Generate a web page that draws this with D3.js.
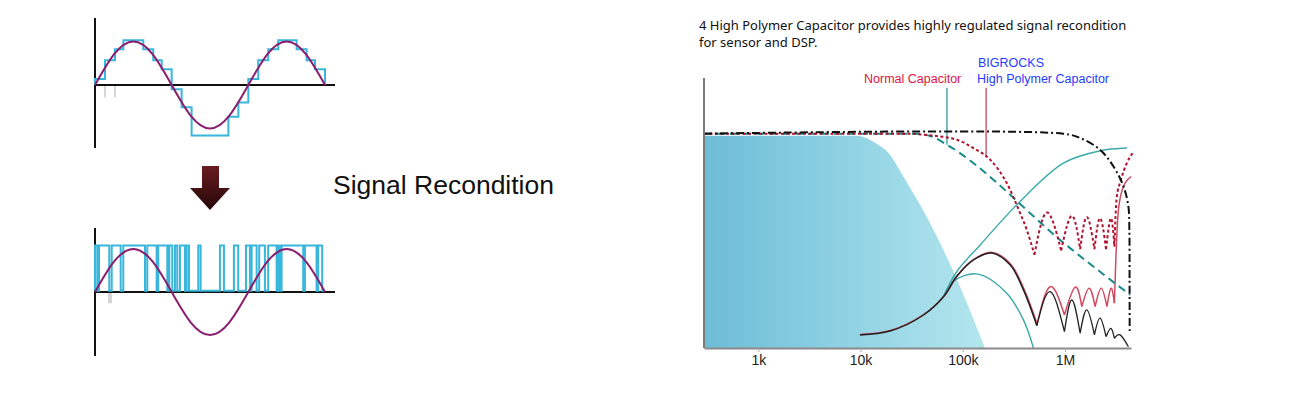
<!DOCTYPE html>
<html><head><meta charset="utf-8">
<script src="https://cdn.jsdelivr.net/npm/d3@7/dist/d3.min.js"></script>
<style>body{margin:0;background:#fff}svg{display:block}</style>
</head><body>
<svg id="c" width="1300" height="400"></svg>
<script>
// ================= DATA =================
// left panels (time in half-periods, level in amplitude units)
const sineX = [0,0.25,0.5,0.75,1,1.25,1.5,1.75,2,2.25,2.5,2.75,3];
const sineY = [0,0.71,1,0.71,0,-0.71,-1,-0.71,0,0.71,1,0.71,0];
const stepEdges = [0,0.13,0.26,0.37,0.63,0.76,0.87,1.0,1.13,1.26,1.74,1.87,2.0,2.13,2.26,2.39,2.63,2.76,2.87,3.0];
const stepLevels = [0.14,0.57,0.82,1.03,0.82,0.57,0.36,-0.1,-0.51,-1.16,-0.73,-0.4,0.14,0.57,0.82,1.03,0.82,0.57,0.36];
const sampleMarksTop = [0.13,0.26];
const pulseStart = [0,0.052,0.218,0.369,0.682,0.825,0.969,1.043,1.108,1.196,1.347,1.63,1.812,1.969,2.043,2.142,2.259,2.39,2.434,2.738,2.911];
const pulseEnd   = [0.03,0.186,0.335,0.652,0.804,0.943,1.008,1.073,1.173,1.226,1.378,1.682,1.868,2.021,2.108,2.216,2.369,2.412,2.716,2.89,2.963];
const pulseHigh = 1.08, pulseLow = 0.03;
const sampleMarksBottom = [0.183,0.209];

// right chart: frequency (Hz) and relative level (plateau = 100)
const freqTicks = [1e3,1e4,1e5,1e6];
const freqTickLabels = ["1k","10k","100k","1M"];
const shadeF = [294,9.18e3,14.4e3,19.4e3,24.3e3,30.5e3,38.2e3,82.2e3,165e3];
const shadeL = [99.1,99.1,95.3,90.2,82.7,74.8,66.8,35,0];
const blackDashF = [294,957e3,1.41e6,2.2e6,2.98e6,3.73e6,4.17e6,4.26e6,4.28e6,4.29e6];
const blackDashL = [100,100,98,92.5,84.7,75.4,66,55.1,31.8,7];
const tealDashF = [294,35e3,52e3,69.7e3,1.12e6,4.33e6];
const tealDashL = [100,100,98.3,94.9,46.6,24.8];
const redDotF = [294,30e3,41.2e3,87.3e3,127e3,185e3,269e3,364e3,423e3,502e3];
const redDotL = [100,100,99.5,97.2,93.3,87.9,77,62.9,55.1,43.5];
const redDotLobeF = [502e3,664e3,916e3,1.166e6,1.406e6,1.634e6,1.94e6,2.2e6,2.52e6,2.81e6,3.04e6];
const redDotLobeL = [43.5,63.2,45.5,61.7,46.1,61.1,46.1,60.6,46.1,60.6,47.3];
const redDotRiseF = [3.04e6,3.2e6,3.5e6,4.0e6,4.69e6];
const redDotRiseL = [47.3,70,78,86,91.6];
const blackF = [9.85e3,19.4e3,41.2e3,64.6e3,87.4e3,127e3,192e3,290e3,392e3,530e3];
const blackL = [6.1,7.9,15.4,23.9,33.5,41.1,44.3,38.8,27.1,10.4];
const blackLobeF = [530e3,715e3,987e3,1.166e6,1.406e6,1.634e6,1.94e6,2.2e6,2.52e6,2.81e6,3.04e6,3.46e6,4.17e6];
const blackLobeL = [10.4,26.3,7.6,22.4,6.9,17.8,6.1,13.9,5.3,9.2,4.5,6.1,0.6];
const redLobeF = [530e3,715e3,987e3,1.256e6,1.46e6,1.72e6,1.97e6,2.26e6,2.57e6,2.82e6,3.04e6];
const redLobeL = [10.7,28.6,15.4,28.4,19.3,27.9,19.3,27.9,19.3,27.9,20.9];
const redRiseF = [3.04e6,3.14e6,3.33e6,3.73e6,4.44e6];
const redRiseL = [20.9,41.1,64.5,75.4,80];
const tealUpF = [64.6e3,87.4e3,148e3,350e3,964e3,2.2e6,4.03e6];
const tealUpL = [23.9,35.7,48.1,67.6,86.3,92,93.3];
const tealHumpF = [64.6e3,80.5e3,137e3,269e3,392e3,491e3];
const tealHumpL = [23.9,31,34.6,25.6,13.1,0];
const pointerF = [70e3,169e3];
const pointerTop = [121.5,121.5];
const pointerBottom = [94.9,89.5];

// ================= DRAW =================
const svg = d3.select("#c");
const zip = (a,b)=>a.map((v,i)=>[v,b[i]]);

// ---- left panels ----
const xt = d3.scaleLinear().domain([0,3]).range([95,325]);
const yTop = d3.scaleLinear().domain([-1,1]).range([128.5,41.5]);
const yBot = d3.scaleLinear().domain([-1,1]).range([335,249]);

function panel(y, axTop, axBot){
  svg.append("line").attr("x1",95).attr("x2",335).attr("y1",y(0)).attr("y2",y(0))
    .attr("stroke","#111").attr("stroke-width",2);
  svg.append("line").attr("x1",95).attr("x2",95).attr("y1",axTop).attr("y2",axBot)
    .attr("stroke","#111").attr("stroke-width",2);
}
// top panel
sampleMarksTop.forEach(m=>{
  svg.append("line").attr("x1",xt(m)).attr("x2",xt(m)).attr("y1",yTop(0)).attr("y2",yTop(-0.28))
    .attr("stroke","#c8c8c8").attr("stroke-width",1.5);
});
panel(yTop,18,148);
const stepPts = [[0,0]].concat(stepLevels.map((l,i)=>[stepEdges[i],l]), [[3,stepLevels[stepLevels.length-1]],[3,0]]);
svg.append("path").attr("d", d3.line().x(d=>xt(d[0])).y(d=>yTop(d[1])).curve(d3.curveStepAfter)(stepPts))
  .attr("fill","none").attr("stroke","#38b6dc").attr("stroke-width",2);
svg.append("path").attr("d", d3.line().x(d=>xt(d[0])).y(d=>yTop(d[1])).curve(d3.curveNatural)(zip(sineX,sineY)))
  .attr("fill","none").attr("stroke","#8c1d6c").attr("stroke-width",2);

// bottom panel
sampleMarksBottom.forEach(m=>{
  svg.append("line").attr("x1",xt(m)).attr("x2",xt(m)).attr("y1",yBot(0)).attr("y2",yBot(-0.26))
    .attr("stroke","#c8c8c8").attr("stroke-width",1.5);
});
panel(yBot,228,356);
let pw = [[0,pulseLow]];
pulseStart.forEach((s,i)=>{ pw.push([s,pulseHigh]); pw.push([pulseEnd[i],pulseLow]); });
pw.push([3,pulseLow]);
svg.append("path").attr("d", d3.line().x(d=>xt(d[0])).y(d=>yBot(d[1])).curve(d3.curveStepAfter)(pw))
  .attr("fill","none").attr("stroke","#38b6dc").attr("stroke-width",2);
svg.append("path").attr("d", d3.line().x(d=>xt(d[0])).y(d=>yBot(d[1])).curve(d3.curveNatural)(zip(sineX,sineY)))
  .attr("fill","none").attr("stroke","#8a1f70").attr("stroke-width",2);

// arrow
const defs = svg.append("defs");
const ag = defs.append("linearGradient").attr("id","ag").attr("x1",0).attr("y1",0).attr("x2",0).attr("y2",1);
ag.append("stop").attr("offset","0%").attr("stop-color","#6a1c20");
ag.append("stop").attr("offset","100%").attr("stop-color","#240708");
svg.append("path").attr("d","M202,166 L219,166 L219,188 L230,188 L210,210 L190,188 L202,188 Z")
  .attr("fill","url(#ag)");

svg.append("text").attr("x",333).attr("y",194).text("Signal Recondition")
  .attr("font-family","Liberation Sans, Arial, sans-serif").attr("font-size",26.5).attr("fill","#111");

// ---- right chart ----
const x = d3.scaleLog().domain([294,4.42e6]).range([704,1131]);
const y = d3.scaleLinear().domain([0,126]).range([348,78]);

svg.append("text").attr("x",699).attr("y",30).text("4 High Polymer Capacitor provides highly regulated signal recondition")
  .attr("font-family","Noto Sans, sans-serif").attr("font-size",13).attr("fill","#111");
svg.append("text").attr("x",699).attr("y",47).text("for sensor and DSP.")
  .attr("font-family","Noto Sans, sans-serif").attr("font-size",13).attr("fill","#111");

const lg = defs.append("linearGradient").attr("id","fillg").attr("gradientUnits","userSpaceOnUse")
  .attr("x1",704).attr("y1",0).attr("x2",985).attr("y2",0);
lg.append("stop").attr("offset","0%").attr("stop-color","#6dbcd6");
lg.append("stop").attr("offset","50%").attr("stop-color","#8fd2e3");
lg.append("stop").attr("offset","100%").attr("stop-color","#b4e6ee");
svg.append("path").attr("d", d3.area().x(d=>x(d[0])).y0(y(0)).y1(d=>y(d[1])).curve(d3.curveMonotoneX)(zip(shadeF,shadeL)))
  .attr("fill","url(#fillg)");

const lineMono = d3.line().x(d=>x(d[0])).y(d=>y(d[1])).curve(d3.curveMonotoneX);
const lineCR = d3.line().x(d=>x(d[0])).y(d=>y(d[1])).curve(d3.curveCatmullRom.alpha(0.5));
const lineNat = d3.line().x(d=>x(d[0])).y(d=>y(d[1])).curve(d3.curveNatural);
function lobes(F,L){
  let d="";
  for(let i=0;i+2<F.length;i+=2){ d += lineNat([[F[i],L[i]],[F[i+1],L[i+1]],[F[i+2],L[i+2]]]); }
  return d;
}

// pointers
pointerF.forEach((f,i)=>{
  svg.append("line").attr("x1",x(f)).attr("x2",x(f)).attr("y1",y(pointerTop[i])).attr("y2",y(pointerBottom[i]))
    .attr("stroke", i===0 ? "#2f9c9c" : "#c24a5c").attr("stroke-width",1.3);
});

// solid curves
svg.append("path").attr("d", lineCR(zip(tealUpF,tealUpL))).attr("fill","none").attr("stroke","#3aa9aa").attr("stroke-width",1.4);
svg.append("path").attr("d", lineCR(zip(tealHumpF,tealHumpL))).attr("fill","none").attr("stroke","#3aa9aa").attr("stroke-width",1.4);
svg.append("path").attr("d", lineCR(zip(blackF,blackL))).attr("fill","none").attr("stroke","#d04a60").attr("stroke-width",1.6)
  .attr("transform","translate(0.6,-0.6)");
svg.append("path").attr("d", lobes(redLobeF,redLobeL)).attr("fill","none").attr("stroke","#d04a60").attr("stroke-width",1.5);
svg.append("path").attr("d", lineMono(zip(redRiseF,redRiseL))).attr("fill","none").attr("stroke","#d04a60").attr("stroke-width",1.5);
svg.append("path").attr("d", lineCR(zip(blackF,blackL))).attr("fill","none").attr("stroke","#222").attr("stroke-width",1.5);
svg.append("path").attr("d", lobes(blackLobeF,blackLobeL)).attr("fill","none").attr("stroke","#222").attr("stroke-width",1.3);

// dashed curves
svg.append("path").attr("d", lineMono(zip(tealDashF,tealDashL))).attr("fill","none").attr("stroke","#188b8b")
  .attr("stroke-width",2).attr("stroke-dasharray","8,5");
svg.append("path").attr("d", lineMono(zip(redDotF,redDotL)) + lobes(redDotLobeF,redDotLobeL) + lineMono(zip(redDotRiseF,redDotRiseL)))
  .attr("fill","none").attr("stroke","#b0122e").attr("stroke-width",2).attr("stroke-dasharray","3,2.5");
svg.append("path").attr("d", lineCR(zip(blackDashF,blackDashL))).attr("fill","none").attr("stroke","#111")
  .attr("stroke-width",2).attr("stroke-dasharray","8,3,2,3");

// axes
svg.append("line").attr("x1",704).attr("x2",704).attr("y1",y(126)).attr("y2",y(0))
  .attr("stroke","#7a7a7a").attr("stroke-width",2);
const ax = svg.append("g").attr("transform",`translate(0,${y(0)})`)
  .call(d3.axisBottom(x).tickValues(freqTicks).tickFormat((d,i)=>freqTickLabels[i]).tickSize(4).tickSizeOuter(0));
ax.select(".domain").attr("stroke","#8a8a8a").attr("stroke-width",2);
ax.selectAll(".tick line").attr("stroke","#aaa");
ax.selectAll(".tick text").attr("font-family","Liberation Sans, Arial, sans-serif").attr("font-size",14).attr("fill","#222");

// labels
svg.append("text").attr("x",864).attr("y",83).text("Normal Capacitor")
  .attr("font-family","Liberation Sans, Arial, sans-serif").attr("font-size",12.5).attr("fill","#e2133e");
svg.append("text").attr("x",978).attr("y",66.5).text("BIGROCKS")
  .attr("font-family","Liberation Sans, Arial, sans-serif").attr("font-size",12.5).attr("fill","#1f3cff");
svg.append("text").attr("x",977).attr("y",82.5).text("High Polymer Capacitor")
  .attr("font-family","Liberation Sans, Arial, sans-serif").attr("font-size",12.5).attr("fill","#1f3cff");
</script>
</body></html>
